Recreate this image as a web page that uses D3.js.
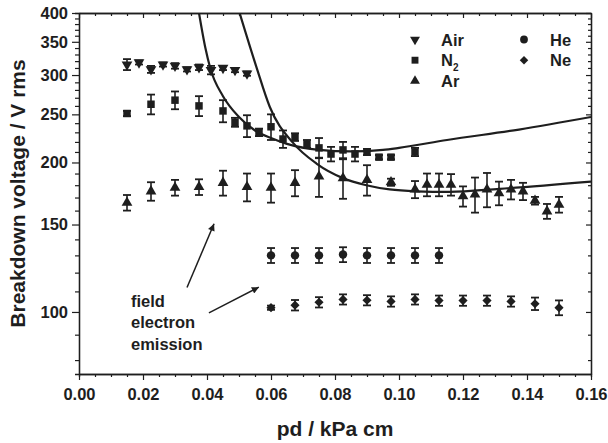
<!DOCTYPE html>
<html>
<head>
<meta charset="utf-8">
<script src="https://cdn.jsdelivr.net/npm/d3@7"></script>
<style>
	body { margin: 0; background: #fff; }
	svg text { font-family: Arial, 'Liberation Sans', sans-serif; font-weight: bold; fill: #1e1e1e; }
</style>
</head>
<body>
<div id="chart"></div>
<script>
// axis ticks
const xTicks = [0, 0.02, 0.04, 0.06, 0.08, 0.1, 0.12, 0.14, 0.16];
const yTicks = [100, 150, 200, 250, 300, 350, 400];

// measured breakdown voltages (pd in kPa cm, V in V rms, err = half bar)
const airPd = [0.015, 0.01875, 0.0225, 0.02625, 0.03, 0.03375, 0.0375, 0.04125, 0.045, 0.04875, 0.0525];
const airV = [315, 318, 308, 315, 313, 308, 311, 307, 310, 307, 302];
const airErr = [8, 3, 5, 3, 4, 3, 4, 6, 3, 3, 3];

const n2Pd = [0.015, 0.0225, 0.03, 0.0375, 0.045, 0.04875, 0.0525, 0.05625, 0.06, 0.06375, 0.0675, 0.07125, 0.075, 0.07875, 0.0825, 0.08625, 0.09, 0.09375, 0.0975, 0.105];
const n2V = [251, 262, 267, 260, 254, 241, 237, 230, 236, 223, 225, 218, 214, 208, 212, 208, 210, 205, 205, 210];
const n2Err = [3, 12, 11, 12, 13, 5, 12, 4, 14, 9, 4, 4, 10, 7, 8, 7, 3, 2, 2, 4];

const arPd = [0.015, 0.0225, 0.03, 0.0375, 0.045, 0.0525, 0.06, 0.0675, 0.075, 0.0825, 0.09, 0.0975, 0.105, 0.10875, 0.1125, 0.11625, 0.12, 0.12375, 0.1275, 0.13125, 0.135, 0.13875, 0.1425, 0.14625, 0.15];
const arV = [166, 175, 178, 178.5, 182, 178.5, 178, 182, 187.5, 186, 184.5, 182.5, 176.5, 180.5, 180.5, 180.5, 171, 172.5, 176.5, 173.5, 176.5, 175, 167.5, 159.5, 164.5];
const arErr = [6, 7.5, 6.5, 6.5, 10.5, 11.5, 12, 11, 17, 17, 13, 3, 7, 9.5, 9.5, 9, 8, 14, 14, 9.5, 8, 7, 3, 5.5, 6];

const hePd = [0.06, 0.0675, 0.075, 0.0825, 0.09, 0.0975, 0.105, 0.1125];
const heV = [130, 130, 130, 130.5, 130, 130, 130, 130];
const heErr = [4.5, 4.5, 4.5, 4.5, 4.5, 4.5, 4.5, 4.5];

const nePd = [0.06, 0.0675, 0.075, 0.0825, 0.09, 0.0975, 0.105, 0.1125, 0.12, 0.1275, 0.135, 0.1425, 0.15];
const neV = [102, 103.2, 104.6, 106, 105.6, 105, 106, 105.4, 105.4, 105.4, 105, 103.9, 102];
const neErr = [1, 2.5, 2.5, 2.5, 2.5, 2.5, 2.5, 2.5, 2.5, 2.5, 2.5, 3, 3.5];

// fitted curves
const fit1Pd = [0.0375, 0.0395, 0.041, 0.045, 0.05, 0.055, 0.06, 0.065, 0.075, 0.085, 0.095, 0.1, 0.115, 0.1375, 0.16];
const fit1V = [400, 340, 310, 272, 247, 232, 224, 218, 212, 210.5, 212, 214, 222, 233, 247];
const fit2Pd = [0.0502, 0.0554, 0.0596, 0.0669, 0.0742, 0.0825, 0.0898, 0.0971, 0.1054, 0.1158, 0.1315, 0.16];
const fit2V = [400, 312, 259, 219, 199, 186, 180, 176.5, 175, 174.5, 177, 183];

const legendNames = ['Air', 'N', 'Ar', 'He', 'Ne'];
const noteLines = ['field', 'electron', 'emission'];
// arrows: [pd start, V start, pd tip, V tip]
const arrows = [
	[0.03375, 112, 0.0422, 150.5],
	[0.0406, 99.6, 0.0562, 112.2],
];

// set the dimensions and margins of the graph
const margin = { top: 13, right: 17, bottom: 69, left: 79 },
	width = 608 - margin.left - margin.right,
	height = 443 - margin.top - margin.bottom;

const svg0 = d3
	.select('#chart')
	.append('svg')
	.attr('width', width + margin.left + margin.right)
	.attr('height', height + margin.top + margin.bottom);
const svg = svg0.append('g').attr('transform', `translate(${margin.left},${margin.top})`);

const x = d3.scaleLinear().domain([0, 0.16]).range([0, width]);
const y = d3.scaleLog().domain([75, 400]).range([height, 0]);

svg0
	.append('defs')
	.append('clipPath')
	.attr('id', 'clip')
	.append('rect')
	.attr('width', width)
	.attr('height', height);

// axes
const xMinor = d3.range(0, 0.1601, 0.005).filter((v) => Math.abs(v / 0.02 - Math.round(v / 0.02)) > 1e-6);
const yMinor = d3.range(80, 400, 10).filter((v) => !yTicks.includes(v));

const styleAxis = (g) => {
	g.select('.domain').attr('stroke', '#1e1e1e').attr('stroke-width', 1.3);
	g.selectAll('.tick line').attr('stroke', '#1e1e1e').attr('stroke-width', 1.2);
	g.selectAll('text').attr('font-size', '16.5px').attr('fill', '#1e1e1e');
};

svg.append('g').attr('transform', `translate(0,${height})`)
	.call(d3.axisBottom(x).tickValues(xTicks).tickSizeInner(6).tickSizeOuter(0).tickPadding(8).tickFormat(d3.format('.2f')))
	.call(styleAxis);
svg.append('g').attr('transform', `translate(0,${height})`)
	.call(d3.axisBottom(x).tickValues(xMinor).tickSize(3).tickFormat(''))
	.call(styleAxis);
svg.append('g')
	.call(d3.axisTop(x).tickValues(xTicks).tickSizeInner(-5).tickSizeOuter(0).tickFormat(''))
	.call(styleAxis);
svg.append('g')
	.call(d3.axisTop(x).tickValues(xMinor).tickSizeInner(-3).tickSizeOuter(0).tickFormat(''))
	.call(styleAxis);

svg.append('g')
	.call(d3.axisLeft(y).tickValues(yTicks).tickSizeInner(7).tickSizeOuter(0).tickPadding(4).tickFormat(d3.format('d')))
	.call(styleAxis);
svg.append('g')
	.call(d3.axisLeft(y).tickValues(yMinor).tickSize(4).tickFormat(''))
	.call(styleAxis);
svg.append('g').attr('transform', `translate(${width},0)`)
	.call(d3.axisRight(y).tickValues(yTicks).tickSizeInner(-5).tickSizeOuter(0).tickFormat(''))
	.call(styleAxis);
svg.append('g').attr('transform', `translate(${width},0)`)
	.call(d3.axisRight(y).tickValues(yMinor).tickSizeInner(-3).tickSizeOuter(0).tickFormat(''))
	.call(styleAxis);

// axis titles
svg0.append('text')
	.attr('x', margin.left + width / 2)
	.attr('y', 436)
	.attr('text-anchor', 'middle')
	.attr('font-size', '21px')
	.text('pd / kPa cm');
svg0.append('text')
	.attr('transform', `translate(25,${margin.top + height / 2}) rotate(-90)`)
	.attr('text-anchor', 'middle')
	.attr('font-size', '21px')
	.text('Breakdown voltage / V rms');

// fitted curves
const line = d3.line().x((d) => x(d[0])).y((d) => y(d[1])).curve(d3.curveMonotoneX);
[[fit1Pd, fit1V], [fit2Pd, fit2V]].forEach(([p, v]) => {
	svg.append('path')
		.attr('clip-path', 'url(#clip)')
		.attr('fill', 'none')
		.attr('stroke', '#1e1e1e')
		.attr('stroke-width', 2.2)
		.attr('d', line(d3.zip(p, v)));
});

// symbols
const sym = {
	Air: { type: d3.symbolTriangle, size: 50, rot: 180 },
	N: { type: d3.symbolSquare, size: 56, rot: 0 },
	Ar: { type: d3.symbolTriangle, size: 50, rot: 0 },
	He: { type: d3.symbolCircle, size: 56, rot: 0 },
	Ne: { type: d3.symbolSquare, size: 42, rot: 45 },
};

const series = [
	['Air', airPd, airV, airErr],
	['N', n2Pd, n2V, n2Err],
	['Ar', arPd, arV, arErr],
	['He', hePd, heV, heErr],
	['Ne', nePd, neV, neErr],
];

series.forEach(([name, p, v, e]) => {
	const s = sym[name];
	const pts = p.map((d, i) => ({ pd: d, v: v[i], e: e[i] }));
	const g = svg.append('g');
	const bars = g.selectAll('.err').data(pts).join('g').attr('stroke', '#1e1e1e');
	bars.append('line')
		.attr('x1', (d) => x(d.pd)).attr('x2', (d) => x(d.pd))
		.attr('y1', (d) => y(d.v - d.e)).attr('y2', (d) => y(d.v + d.e))
		.attr('stroke-width', 1.6);
	bars.append('line')
		.attr('x1', (d) => x(d.pd) - 4).attr('x2', (d) => x(d.pd) + 4)
		.attr('y1', (d) => y(d.v - d.e)).attr('y2', (d) => y(d.v - d.e))
		.attr('stroke-width', 1.8);
	bars.append('line')
		.attr('x1', (d) => x(d.pd) - 4).attr('x2', (d) => x(d.pd) + 4)
		.attr('y1', (d) => y(d.v + d.e)).attr('y2', (d) => y(d.v + d.e))
		.attr('stroke-width', 1.8);
	g.selectAll('.pt').data(pts).join('path')
		.attr('d', d3.symbol().type(s.type).size(s.size))
		.attr('transform', (d) => `translate(${x(d.pd)},${y(d.v)}) rotate(${s.rot})`)
		.attr('fill', '#1e1e1e');
});

// legend
const legend = svg0.append('g');
legendNames.forEach((name, i) => {
	const col = i < 3 ? 0 : 1;
	const row = i < 3 ? i : i - 3;
	const lx = 415 + col * 109;
	const ly = 39.5 + row * 20.7;
	const s = sym[name];
	legend.append('path')
		.attr('d', d3.symbol().type(s.type).size(s.size * 0.85))
		.attr('transform', `translate(${lx},${ly}) rotate(${s.rot})`)
		.attr('fill', '#1e1e1e');
	const t = legend.append('text')
		.attr('x', lx + 26)
		.attr('y', ly + 6)
		.attr('font-size', '16.5px')
		.text(name);
	if (name === 'N') {
		t.append('tspan').attr('font-size', '10px').attr('dy', 5).text('2');
	}
});

// annotation
noteLines.forEach((t, i) => {
	svg0.append('text')
		.attr('x', 131)
		.attr('y', 306.5 + i * 21.7)
		.attr('font-size', '16.5px')
		.text(t);
});

svg0.select('defs')
	.append('marker')
	.attr('id', 'arrow')
	.attr('viewBox', '0 0 10 10')
	.attr('refX', 10)
	.attr('refY', 5)
	.attr('markerWidth', 9)
	.attr('markerHeight', 7)
	.attr('markerUnits', 'userSpaceOnUse')
	.attr('orient', 'auto')
	.append('path')
	.attr('d', 'M0,0L10,5L0,10z')
	.attr('fill', '#1e1e1e');

arrows.forEach((a) => {
	svg.append('line')
		.attr('x1', x(a[0])).attr('y1', y(a[1]))
		.attr('x2', x(a[2])).attr('y2', y(a[3]))
		.attr('stroke', '#1e1e1e')
		.attr('stroke-width', 1.5)
		.attr('marker-end', 'url(#arrow)');
});
</script>
</body>
</html>
